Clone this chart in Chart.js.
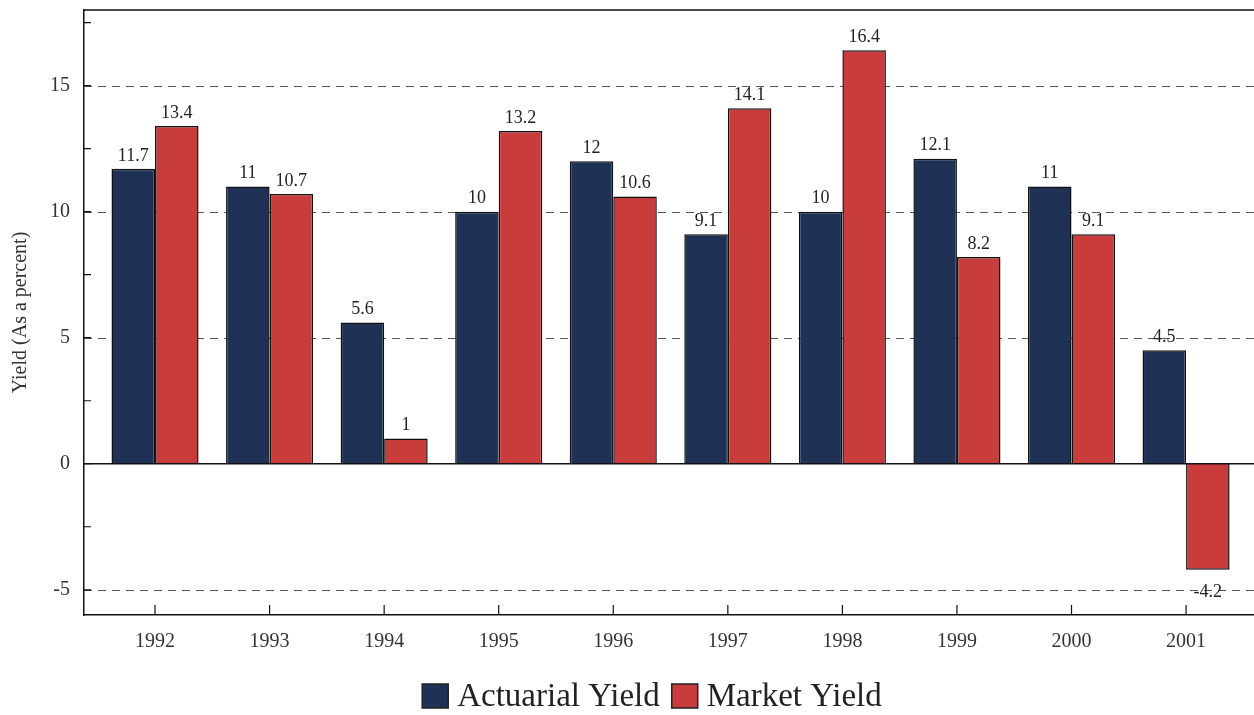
<!DOCTYPE html>
<html>
<head>
<meta charset="utf-8">
<script src="https://cdn.jsdelivr.net/npm/chart.js@4"></script>
<style>
  html, body { margin: 0; padding: 0; background: #fff; }
</style>
</head>
<body>
<canvas id="yieldChart" width="1254" height="715"></canvas>
<script>
// ─── data ───
const years = [1992, 1993, 1994, 1995, 1996, 1997, 1998, 1999, 2000, 2001];
const actuarialYield = [11.7, 11, 5.6, 10, 12, 9.1, 10, 12.1, 11, 4.5];
const marketYield = [13.4, 10.7, 1, 13.2, 10.6, 14.1, 16.4, 8.2, 9.1, -4.2];
const yTicks = [-5, -2.5, 0, 2.5, 5, 7.5, 10, 12.5, 15, 17.5];
const yLabelTicks = [-5, 0, 5, 10, 15];

const SERIF = '"Liberation Serif", "DejaVu Serif", serif';

// gridlines, frame, inside ticks, value labels and the legend
const framePlugin = {
    id: 'frame',
    beforeDatasetsDraw(chart) {
        const { ctx, chartArea: a, scales: { y } } = chart;
        ctx.save();
        ctx.strokeStyle = '#555';
        ctx.lineWidth = 1;
        ctx.setLineDash([8, 6]);
        yLabelTicks.forEach(v => {
            if (v === 0) return;
            const py = Math.round(y.getPixelForValue(v)) + 0.5;
            ctx.beginPath();
            ctx.moveTo(a.left, py);
            ctx.lineTo(a.right, py);
            ctx.stroke();
        });
        ctx.restore();
    },
    afterDatasetsDraw(chart) {
        const { ctx, chartArea: a, scales: { x, y } } = chart;
        ctx.save();
        ctx.strokeStyle = '#111';
        ctx.lineWidth = 1.5;

        // zero line + top border
        const y0 = y.getPixelForValue(0);
        ctx.beginPath();
        ctx.moveTo(a.left, y0); ctx.lineTo(a.right, y0);
        ctx.moveTo(a.left, a.top); ctx.lineTo(a.right, a.top);
        ctx.stroke();

        // inside tick marks
        ctx.lineWidth = 1.2;
        ctx.beginPath();
        yTicks.forEach(v => {
            const py = y.getPixelForValue(v);
            ctx.moveTo(a.left, py); ctx.lineTo(a.left + 7, py);
        });
        years.forEach(v => {
            const px = x.getPixelForValue(v);
            ctx.moveTo(px, a.bottom); ctx.lineTo(px, a.bottom - 10);
        });
        ctx.stroke();

        // value labels
        ctx.fillStyle = '#222';
        ctx.font = '18px ' + SERIF;
        ctx.textAlign = 'center';
        chart.data.datasets.forEach((ds, i) => {
            chart.getDatasetMeta(i).data.forEach((bar, j) => {
                const v = ds.data[j].y;
                if (v >= 0) {
                    ctx.textBaseline = 'bottom';
                    ctx.fillText(String(v), bar.x, bar.y - 4);
                } else {
                    ctx.textBaseline = 'top';
                    ctx.fillText(String(v), bar.x, bar.y + 14);
                }
            });
        });

        // legend (centred a little right of the canvas middle, like the original)
        ctx.font = '33px ' + SERIF;
        ctx.textAlign = 'left';
        ctx.textBaseline = 'middle';
        const box = 26, gapIn = 9, gapOut = 12, cy = 696;
        const items = chart.data.datasets.map(ds => ({
            text: ds.label, color: ds.backgroundColor, w: ctx.measureText(ds.label).width
        }));
        const total = items.reduce((s, it) => s + box + gapIn + it.w, 0) + gapOut * (items.length - 1);
        let lx = 652 - total / 2;
        items.forEach(it => {
            ctx.fillStyle = it.color;
            ctx.fillRect(lx, cy - 12, box, 24);
            ctx.strokeStyle = '#222';
            ctx.lineWidth = 1.5;
            ctx.strokeRect(lx, cy - 12, box, 24);
            ctx.fillStyle = '#222';
            ctx.fillText(it.text, lx + box + gapIn, cy + 1);
            lx += box + gapIn + it.w + gapOut;
        });
        ctx.restore();
    }
};

new Chart(document.getElementById('yieldChart'), {
    type: 'bar',
    data: {
        datasets: [{
            label: 'Actuarial Yield',
            data: years.map((yr, i) => ({ x: yr, y: actuarialYield[i] })),
            backgroundColor: '#1f3256',
            borderColor: '#111',
            borderWidth: 1.5
        }, {
            label: 'Market Yield',
            data: years.map((yr, i) => ({ x: yr, y: marketYield[i] })),
            backgroundColor: '#c93c3c',
            borderColor: '#111',
            borderWidth: 1.5
        }]
    },
    options: {
        responsive: false,
        animation: false,
        devicePixelRatio: 1,
        categoryPercentage: 0.76,
        barPercentage: 1.0,
        layout: { padding: { top: 10, left: 0, right: 0, bottom: 50 } },
        scales: {
            x: {
                type: 'linear',
                offset: false,
                min: 1991.38,
                max: 2001.593,
                afterBuildTicks: s => { s.ticks = years.map(v => ({ value: v })); },
                afterFit: s => { s.height = 50; s.paddingLeft = 0; s.paddingRight = 0; },
                grid: { display: false, drawTicks: false },
                border: { display: true, color: '#111', width: 1.5 },
                ticks: {
                    padding: 15,
                    color: '#333',
                    font: { family: SERIF, size: 20 },
                    callback: v => String(v)
                }
            },
            y: {
                min: -6,
                max: 18,
                afterBuildTicks: s => { s.ticks = yTicks.map(v => ({ value: v })); },
                afterFit: s => { s.width = 84; s.paddingTop = 0; s.paddingBottom = 0; },
                grid: { display: false, drawTicks: false },
                border: { display: true, color: '#111', width: 1.5 },
                ticks: {
                    padding: 14,
                    color: '#333',
                    font: { family: SERIF, size: 20 },
                    callback: v => (v % 5 === 0 ? String(v) : '')
                },
                title: {
                    display: true,
                    text: 'Yield (As a percent)',
                    color: '#333',
                    font: { family: SERIF, size: 20 },
                    padding: { top: 9, bottom: 0 }
                }
            }
        },
        plugins: {
            legend: { display: false },
            tooltip: { enabled: false }
        }
    },
    plugins: [framePlugin]
});
</script>
</body>
</html>
